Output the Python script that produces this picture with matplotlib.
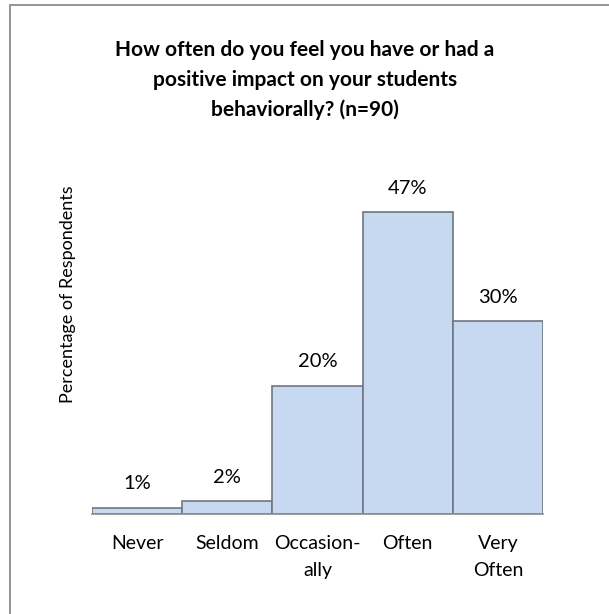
import matplotlib.pyplot as plt
from matplotlib.patches import Rectangle

categories = ["Never", "Seldom", "Occasion-\nally", "Often", "Very\nOften"]
percent = [1, 2, 20, 47, 30]

plt.rcParams['font.family'] = ['Lato', 'DejaVu Sans']

fig = plt.figure(figsize=(6.09, 6.14), dpi=100)
W, H = 609, 614

# chart frame (only top and left edges fall inside the canvas)
fig.patches.append(Rectangle((10 / W, -0.1), 1.2, (H - 5) / H + 0.1,
                             transform=fig.transFigure, fill=False,
                             edgecolor='#8c8c8c', linewidth=1.3))

ax = fig.add_axes([92 / W, 100 / H, (543 - 92) / W, (514 - 193) / H])
x = range(len(categories))
bars = ax.bar(x, percent, width=1.0, color='#c6d9f1', edgecolor='#6f7681',
              linewidth=1.2)
ax.set_xlim(-0.5, len(categories) - 0.5)
ax.set_ylim(0, 50)

for b, v in zip(bars, percent):
    ax.annotate(f"{v}%", (b.get_x() + b.get_width() / 2, v),
                xytext=(0, 11), textcoords='offset points',
                ha='center', va='bottom', fontsize=14.5)

ax.set_xticks(list(x))
ax.set_xticklabels(categories, fontsize=14, linespacing=1.7, va='top')
ax.tick_params(axis='x', length=0, pad=15)
ax.set_yticks([])
for s in ['top', 'right', 'left']:
    ax.spines[s].set_visible(False)
ax.spines['bottom'].set_color('#8c8c8c')
ax.spines['bottom'].set_linewidth(1.2)

fig.text(68 / W, 1 - 294 / H, "Percentage of Respondents", rotation=90,
         ha='center', va='center', fontsize=13)

fig.text(305 / W, 1 - 80 / H,
         "How often do you feel you have or had a\npositive impact on your students\nbehaviorally? (n=90)",
         ha='center', va='center', fontsize=15, fontweight='bold',
         linespacing=1.6)

fig.savefig("out.png", dpi=100)
